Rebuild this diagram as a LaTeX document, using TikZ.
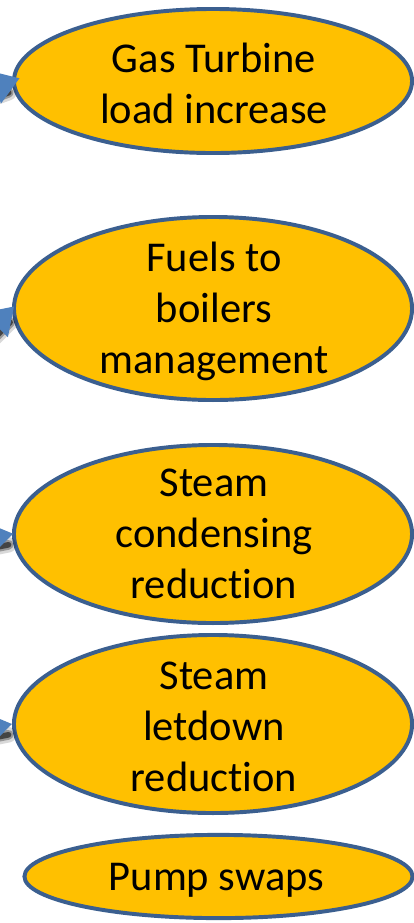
\documentclass[tikz,border=0pt]{standalone}
\usepackage{fontspec}
\setmainfont{Carlito}[Ligatures=NoCommon]
\usetikzlibrary{arrows.meta,calc,shapes.geometric}
\definecolor{ovalfill}{HTML}{FFC000}
\definecolor{ovalline}{HTML}{3B5F8F}
\definecolor{arrowblue}{HTML}{4F81BD}
\begin{document}
\begin{tikzpicture}[x=0.025cm,y=-0.025cm,
  oval/.style={ellipse, draw=ovalline, fill=ovalfill, line width=2.8pt, inner sep=0pt},
  caption/.style={align=center, inner sep=0pt, font=\fontsize{30.2}{36.3}\selectfont},
  conn/.style={draw=arrowblue, line width=2.4pt,
    -{Triangle[length=0.65cm, width=0.85cm, fill=arrowblue]}},
  blurline/.style={draw=black, line cap=round, opacity=#1}]
\useasboundingbox (0,0) rectangle (414,923);
\clip (0,0) rectangle (414,923);
\fill[white] (0,0) rectangle (414,923);

% the five ovals
\node[oval, minimum width=9.95cm, minimum height=3.6cm]  (e1) at (213,81)    {};
\node[oval, minimum width=9.95cm, minimum height=4.575cm] (e2) at (213,308.5) {};
\node[oval, minimum width=9.95cm, minimum height=4.45cm] (e3) at (213,534)   {};
\node[oval, minimum width=9.95cm, minimum height=4.45cm] (e4) at (213,724)   {};
\node[oval, minimum width=9.7cm,  minimum height=2.08cm] (e5) at (218.5,876.5) {};

% their captions
\node[caption] (t1) at ($(e1.center)+(1,2)$) {Gas Turbine\\load increase};
\node[caption] (t2) at ($(e2.center)+(1,3)$) {Fuels to\\boilers\\management};
\node[caption] (t3) at ($(e3.center)+(1,0)$) {Steam\\condensing\\reduction};
\node[caption] (t4) at ($(e4.center)+(1,3)$) {Steam\\letdown\\reduction};
\node[caption] (t5) at ($(e5.center)+(-2,4)$) {Pump swaps};

% incoming arrows, entering from the left edge
\coordinate (s1) at ($(e1.west)+(-110,40)$);
\coordinate (s2) at ($(e2.west)+(-80,80)$);
\coordinate (s3) at ($(e3.west)+(-110,22)$);
\coordinate (s4) at ($(e4.west)+(-110,22)$);

% soft shadows under the arrows
\begin{scope}[transform canvas={shift={(0.06cm,-0.24cm)}}]
  \foreach \s/\e in {s1/e1, s2/e2, s3/e3, s4/e4}{
    \foreach \w/\o in {11pt/0.15, 7pt/0.3, 4pt/0.55}{
      \draw[blurline=\o, line width=\w, shorten >=0.15cm] (\s) -- (\e.west);
    }
  }
\end{scope}

\draw[conn, shorten >=-0.2cm]  (s1) -- (e1.west);
\draw[conn, shorten >=-0.07cm] (s2) -- (e2.west);
\draw[conn, shorten >=-0.03cm] (s3) -- (e3.west);
\draw[conn]                    (s4) -- (e4.west);
\end{tikzpicture}
\end{document}
